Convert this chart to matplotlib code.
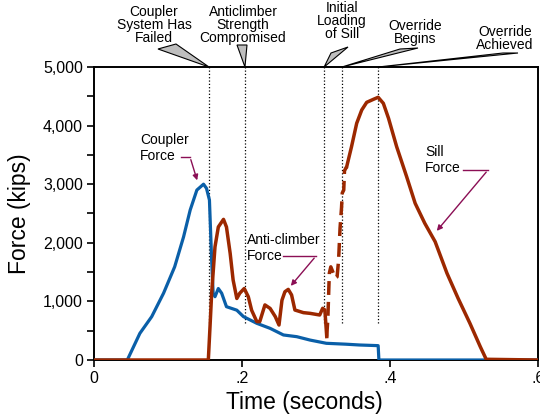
import numpy as np
import matplotlib
matplotlib.use('Agg')
import matplotlib.pyplot as plt
from matplotlib.patches import Polygon
from matplotlib.ticker import FuncFormatter, MultipleLocator

plt.rcParams['font.family'] = ['Liberation Sans', 'DejaVu Sans']

# Coupler force (blue)
coupler_t = [0, 0.045, 0.062, 0.078, 0.094, 0.109, 0.121, 0.130, 0.139, 0.148, 0.152,
             0.156, 0.159, 0.161, 0.1635, 0.168, 0.1725, 0.179, 0.193, 0.202, 0.220,
             0.238, 0.256, 0.274, 0.292, 0.314, 0.340, 0.359, 0.384, 0.385, 0.6]
coupler_f = [0, 0, 455, 740, 1140, 1590, 2100, 2560, 2900, 3000, 2930,
             2730, 1700, 1140, 1080, 1220, 1140, 910, 850, 740, 626,
             540, 427, 398, 340, 285, 270, 256, 245, 0, 0]

# Anti-climber / sill force (red)
sill_t = [0, 0.1545, 0.157, 0.159, 0.1635, 0.168, 0.175, 0.179, 0.184, 0.188, 0.193,
          0.197, 0.203, 0.2085, 0.213, 0.220, 0.224, 0.231, 0.238, 0.245, 0.250,
          0.254, 0.258, 0.2625, 0.267, 0.2715, 0.283, 0.292, 0.305, 0.309, 0.312,
          0.3145, 0.316, 0.318, 0.320, 0.3235, 0.326, 0.3285, 0.3305, 0.3325, 0.3345,
          0.3355, 0.3375, 0.3385, 0.3415, 0.348, 0.355, 0.3618, 0.3685, 0.3775, 0.384,
          0.391, 0.398, 0.409, 0.4225, 0.434, 0.447, 0.461, 0.477, 0.492, 0.508,
          0.522, 0.530, 0.6]
sill_f = [0, 0, 626, 1140, 1930, 2270, 2400, 2270, 1820, 1365, 1050,
          1140, 1220, 1080, 850, 655, 655, 940, 880, 740, 597,
          1020, 1165, 1205, 1110, 853, 808, 796, 768, 882, 853,
          400, 700, 1480, 1590, 1480, 1400, 1420, 1700, 2250, 2600,
          2850, 2900, 3230, 3300, 3640, 4040, 4266, 4397, 4448, 4483,
          4380, 4125, 3640, 3128, 2674, 2333, 2019, 1480, 1053, 626,
          227, 12, 0]

# Events marked with dotted lines
event_t = [0.1554, 0.204, 0.311, 0.335, 0.384]
event_labels = ['Coupler\nSystem Has\nFailed', 'Anticlimber\nStrength\nCompromised',
                'Initial\nLoading\nof Sill', 'Override\nBegins', 'Override\nAchieved']

blue = '#0A5FA8'
red = '#9C2800'
purple = '#8B0F55'

fig = plt.figure(figsize=(5.4, 4.19), dpi=100)
ax = fig.add_axes([94/540, 1-360/419, 444/540, 293/419])

ax.plot(coupler_t, coupler_f, color=blue, lw=2.3, zorder=3)

st = np.array(sill_t)
sf = np.array(sill_f, dtype=float)
dash = (st > 0.3145) & (st < 0.3415)
solid_f = np.where(dash, np.nan, sf)
ax.plot(st, solid_f, color=red, lw=2.5, zorder=4)
idx = np.where(dash)[0]
seg = slice(idx[0] - 1, idx[-1] + 2)
ax.plot(st[seg], sf[seg], color=red, lw=2.5, ls=(0, (4, 2)), zorder=4)

for t in event_t:
    ax.plot([t, t], [630, 5000], color='black', lw=0.9, ls=':', zorder=2)

ax.set_xlim(0, 0.6)
ax.set_ylim(0, 5000)
ax.xaxis.set_major_locator(MultipleLocator(0.2))
ax.xaxis.set_major_formatter(FuncFormatter(lambda v, p: '0' if v == 0 else ('%.1f' % v).lstrip('0')))
ax.yaxis.set_major_locator(MultipleLocator(1000))
ax.yaxis.set_minor_locator(MultipleLocator(500))
ax.yaxis.set_major_formatter(FuncFormatter(lambda v, p: '{:,.0f}'.format(v)))
ax.tick_params(axis='both', which='major', labelsize=11.5, length=5, width=1.2, direction='out')
ax.tick_params(axis='y', which='minor', length=5, width=1.2)
ax.tick_params(axis='y', pad=3)
ax.tick_params(axis='x', pad=3)
for s in ax.spines.values():
    s.set_linewidth(1.4)

fig.text(20/540, 1-213.5/419, 'Force (kips)', rotation=90, ha='center', va='center', fontsize=16.5)
fig.text(304/540, 1-402/419, 'Time (seconds)', ha='center', va='center', fontsize=16.5)

# callouts above plot (pixel positions converted to data units)
def to_data(px, py):
    return ((px - 94) / 740.0, (360 - py) * 5000 / 293.0)

callouts = [
    (154, 5, [(158, 49), (176, 44)]),
    (243, 5, [(237, 45), (247, 45)]),
    (342, 1, [(331, 53), (348, 47)]),
    (415, 19, [(400, 49), (418, 48)]),
    (505, 25, [(503, 53), (518, 53)]),
]
for t, label, (cx, cy, base) in zip(event_t, event_labels, callouts):
    pts = [to_data(*base[0]), to_data(*base[1]), (t, 5000)]
    ax.add_patch(Polygon(pts, closed=True, facecolor='#BEBEBE', edgecolor='black',
                         lw=0.8, clip_on=False, zorder=5))
    x, y = to_data(cx, cy)
    ax.text(x, y, label, ha='center', va='top', fontsize=10, linespacing=0.93,
            clip_on=False, zorder=6)

# force labels with arrows
ax.text(*to_data(140, 133), 'Coupler\nForce', ha='left', va='top', fontsize=10, linespacing=1.15)
ax.plot(*zip(to_data(181, 157), to_data(190, 157)), color=purple, lw=1.0)
ax.annotate('', xy=to_data(198, 183), xytext=to_data(190, 157),
            arrowprops=dict(arrowstyle='-|>', color=purple, lw=1.0, mutation_scale=8))

ax.text(*to_data(247, 233), 'Anti-climber\nForce', ha='left', va='top', fontsize=10, linespacing=1.15)
ax.plot(*zip(to_data(283, 256), to_data(316, 256)), color=purple, lw=1.0)
ax.annotate('', xy=to_data(289, 288), xytext=to_data(316, 256),
            arrowprops=dict(arrowstyle='-|>', color=purple, lw=1.0, mutation_scale=8))

ax.text(*to_data(425, 145), 'Sill\nForce', ha='left', va='top', fontsize=10, linespacing=1.15)
ax.plot(*zip(to_data(463, 170), to_data(488, 170)), color=purple, lw=1.0)
ax.annotate('', xy=to_data(435, 233), xytext=to_data(488, 170),
            arrowprops=dict(arrowstyle='-|>', color=purple, lw=1.0, mutation_scale=8))

fig.savefig('out.png', dpi=100)
